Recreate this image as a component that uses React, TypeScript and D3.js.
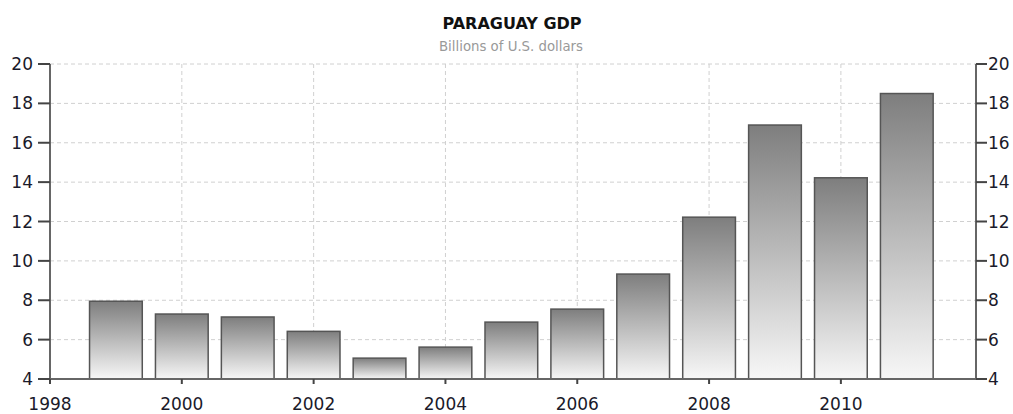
import React from "react";
import * as d3 from "d3";

const years = [1999, 2000, 2001, 2002, 2003, 2004, 2005, 2006, 2007, 2008, 2009, 2010, 2011];
const gdp = [7.95, 7.3, 7.15, 6.42, 5.06, 5.62, 6.89, 7.55, 9.33, 12.22, 16.9, 14.22, 18.5];
const yTicks = [4, 6, 8, 10, 12, 14, 16, 18, 20];
const xTicks = [1998, 2000, 2002, 2004, 2006, 2008, 2010];
const title = "PARAGUAY GDP";
const subtitle = "Billions of U.S. dollars";

export default function App() {
  const W = 1013, H = 414;
  const left = 50, right = 976, top = 64, bottom = 379;
  const x = d3.scaleLinear().domain([1998, 2012.05]).range([left, right]);
  const y = d3.scaleLinear().domain([4, 20]).range([bottom, top]);
  const bw = (x(1999) - x(1998)) * 0.8;
  const font = "'DejaVu Sans', Verdana, Tahoma, sans-serif";
  const axisColor = "#666";
  return (
    <svg width={W} height={H} style={{ position: "absolute", left: 0, top: 0, background: "#fff" }} fontFamily={font}>
      <defs>
        <linearGradient id="barGrad" x1="0" y1="0" x2="0" y2="1">
          <stop offset="0%" stopColor="#7e7e7e" />
          <stop offset="100%" stopColor="#f7f7f7" />
        </linearGradient>
      </defs>
      <text x={512} y={29} textAnchor="middle" fontSize={16} fontWeight="bold" fill="#111">{title}</text>
      <text x={511} y={51} textAnchor="middle" fontSize={13.3} fill="#999">{subtitle}</text>
      {yTicks.filter(t => t > 4).map(t => (
        <line key={"hg" + t} x1={left} x2={right} y1={y(t)} y2={y(t)} stroke="#d0d0d0" strokeWidth={1} strokeDasharray="4,3" />
      ))}
      {xTicks.filter(t => t > 1998).map(t => (
        <line key={"vg" + t} x1={x(t)} x2={x(t)} y1={top} y2={bottom} stroke="#d0d0d0" strokeWidth={1} strokeDasharray="4,3" />
      ))}
      {years.map((yr, i) => (
        <rect key={yr} x={x(yr) - bw / 2} y={y(gdp[i])} width={bw} height={bottom - y(gdp[i])}
          fill="url(#barGrad)" stroke="#555" strokeWidth={1.5} />
      ))}
      <line x1={left} x2={left} y1={top} y2={bottom} stroke={axisColor} strokeWidth={2} />
      <line x1={right} x2={right} y1={top} y2={bottom} stroke={axisColor} strokeWidth={2} />
      <line x1={left} x2={right} y1={bottom} y2={bottom} stroke={axisColor} strokeWidth={2} />
      {yTicks.map(t => (
        <g key={"yt" + t}>
          <line x1={left - 12} x2={left} y1={y(t)} y2={y(t)} stroke="#444" strokeWidth={2} />
          <text x={33} y={y(t)} dy="0.36em" textAnchor="end" fontSize={17} fill="#1a1a2a">{t}</text>
          <line x1={right} x2={right + 11} y1={y(t)} y2={y(t)} stroke="#444" strokeWidth={2} />
          <text x={988} y={y(t)} dy="0.36em" textAnchor="start" fontSize={17} fill="#1a1a2a">{t}</text>
        </g>
      ))}
      {xTicks.map(t => (
        <g key={"xt" + t}>
          <line x1={x(t)} x2={x(t)} y1={bottom} y2={bottom + 5} stroke="#444" strokeWidth={2} />
          <text x={x(t)} y={410} textAnchor="middle" fontSize={17} fill="#1a1a2a">{t}</text>
        </g>
      ))}
    </svg>
  );
}
